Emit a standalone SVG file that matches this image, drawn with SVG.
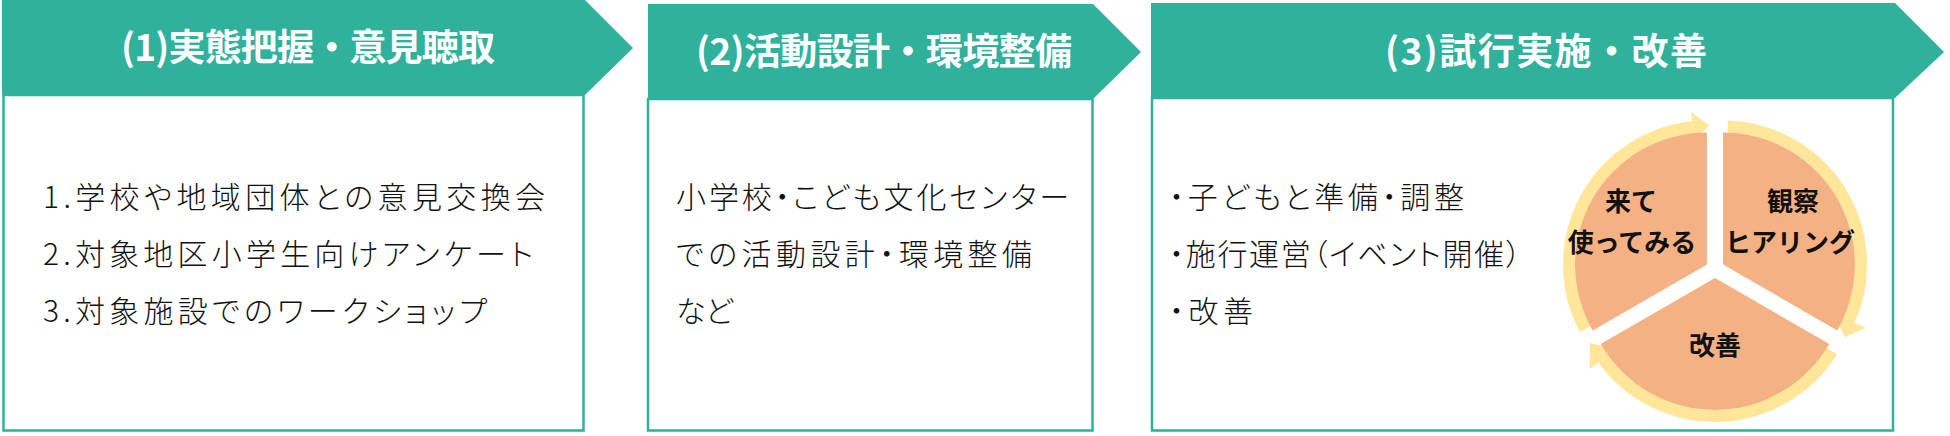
<svg xmlns="http://www.w3.org/2000/svg" width="1950" height="436" viewBox="0 0 1950 436">
<style>
.hdr{fill:#2FB19C}
.body{fill:#fff;stroke:#2FB19C;stroke-width:2.5}
.ttl{font-family:"Noto Sans CJK JP","Noto Sans",sans-serif;font-weight:700;font-size:37px;fill:#fff}
.txt{font-family:"Noto Sans CJK JP","Noto Sans",sans-serif;font-weight:300;font-size:30px;fill:#111;font-feature-settings:"palt"}
.seg{fill:#F4B183}
.ring{fill:none;stroke:#FFE699;stroke-width:12}
.head{fill:#FFE699}
.lbl{font-family:"Noto Sans CJK JP","Noto Sans",sans-serif;font-weight:700;font-size:26px;fill:#111;text-anchor:middle}
</style>
<rect width="1950" height="436" fill="#fff"/>
<g id="step1">
<rect class="body" x="3.5" y="95" width="580" height="335.5"/>
<polygon class="hdr" points="2,0 585,0 633,48 585,95 2,95"/>
<text class="ttl" x="121" y="61" textLength="374" lengthAdjust="spacing">(1)実態把握・意見聴取</text>
<text class="txt" x="43" y="208" textLength="502" lengthAdjust="spacing">1.学校や地域団体との意見交換会</text>
<text class="txt" x="43" y="265" textLength="490" lengthAdjust="spacing">2.対象地区小学生向けアンケート</text>
<text class="txt" x="43" y="322" textLength="444" lengthAdjust="spacing">3.対象施設でのワークショップ</text>
</g>
<g id="step2">
<rect class="body" x="648" y="99" width="444.5" height="331.5"/>
<polygon class="hdr" points="648,4 1093,4 1141,52 1093,99 648,99"/>
<text class="ttl" x="696" y="65" textLength="376" lengthAdjust="spacing">(2)活動設計・環境整備</text>
<text class="txt" x="676" y="208" textLength="393" lengthAdjust="spacing">小学校・こども文化センター</text>
<text class="txt" x="676" y="265" textLength="356" lengthAdjust="spacing">での活動設計・環境整備</text>
<text class="txt" x="676" y="322" textLength="57" lengthAdjust="spacing">など</text>
</g>
<g id="step3">
<rect class="body" x="1152" y="98" width="741" height="332.5"/>
<polygon class="hdr" points="1151,3 1895,3 1944,52 1895,98 1151,98"/>
<text class="ttl" x="1385" y="65" textLength="322" lengthAdjust="spacing">(3)試行実施・改善</text>
<text class="txt" x="1169" y="208" textLength="295" lengthAdjust="spacing">・子どもと準備・調整</text>
<text class="txt" x="1169" y="265" textLength="352" lengthAdjust="spacing">・施行運営（イベント開催）</text>
<text class="txt" x="1169" y="322" textLength="84" lengthAdjust="spacing">・改善</text>
</g>
<g id="cycle">
<g id="seg-try">
<path class="ring" d="M1585.2 329.2 A138 138 0 0 1 1692.6 127.2"/>
<polygon class="head" points="1693.7,140 1691.2,112 1709.4,125.4"/>
<path class="seg" d="M1707 264.4 L1592.7 330.4 A132 132 0 0 1 1707 132.4 Z"/>
<text class="lbl" x="1631" y="211">来て</text>
<text class="lbl" x="1632" y="252">使ってみる</text>
</g>
<g id="seg-observe">
<path class="ring" d="M1727.8 126.5 A138 138 0 0 1 1849.1 320.5"/>
<polygon class="head" points="1833,313 1866,328 1845,337"/>
<path class="seg" d="M1723 264.4 L1723 132.4 A132 132 0 0 1 1837.3 330.4 Z"/>
<text class="lbl" x="1793" y="211">観察</text>
<text class="lbl" x="1790" y="252">ヒアリング</text>
</g>
<g id="seg-improve">
<path class="ring" d="M1832 351.1 A138 138 0 0 1 1603.4 359.1"/>
<polygon class="head" points="1616.3,349.7 1589.6,369.1 1590,343"/>
<path class="seg" d="M1715 278 L1829.3 344 A132 132 0 0 1 1600.7 344 Z"/>
<text class="lbl" x="1715" y="355">改善</text>
</g>
</g>
</svg>
